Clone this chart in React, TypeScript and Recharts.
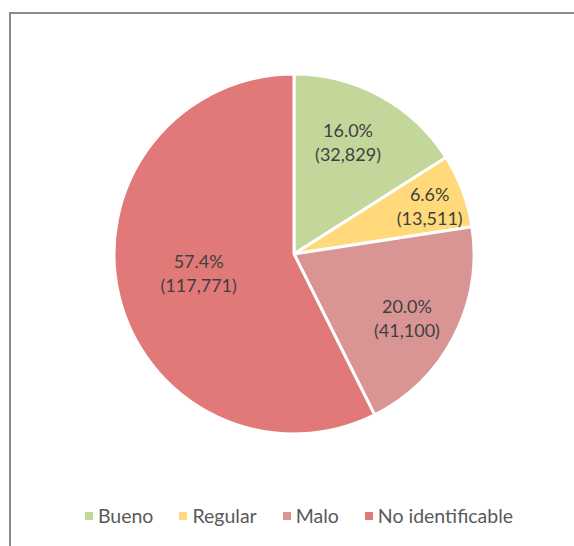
import React from "react";
import { PieChart, Pie, Cell, Legend } from "recharts";

const categories = ["Bueno", "Regular", "Malo", "No identificable"];
const counts = [32829, 13511, 41100, 117771];
const colors = ["#c4d79b", "#ffd97a", "#d99594", "#e27979"];

// label placement tweaks per slice: [radius fraction, angle shift in degrees]
const labelPlacement: [number, number][] = [
	[0.69, 3],
	[0.8, -1],
	[0.72, -2],
	[0.54, -2],
];

const data = categories.map((name, i) => ({ name, value: counts[i] }));

const RADIAN = Math.PI / 180;
const FONT = "Lato, 'Liberation Sans', sans-serif";

function renderLabel(props: any) {
	const { cx, cy, midAngle, outerRadius, percent, value, index } = props;
	const [f, shift] = labelPlacement[index];
	const a = (midAngle + shift) * RADIAN;
	const r = outerRadius * f;
	const x = cx + r * Math.cos(a);
	const y = cy - r * Math.sin(a);
	return (
		<text
			x={x}
			y={y}
			textAnchor="middle"
			fill="#404040"
			fontSize={18}
			fontFamily={FONT}
		>
			<tspan x={x} dy={-5}>
				{(percent * 100).toFixed(1)}%
			</tspan>
			<tspan x={x} dy={24}>
				({value.toLocaleString("en-US")})
			</tspan>
		</text>
	);
}

function renderLegend() {
	return (
		<div
			style={{
				display: "flex",
				justifyContent: "center",
				paddingLeft: 24,
				fontFamily: FONT,
				fontSize: 19.5,
				color: "#595959",
			}}
		>
			{categories.map((name, i) => (
				<div
					key={name}
					style={{ display: "flex", alignItems: "center", margin: "0 13px" }}
				>
					<span
						style={{
							width: 8,
							height: 8,
							background: colors[i],
							marginRight: 5,
							display: "inline-block",
						}}
					/>
					<span>{name}</span>
				</div>
			))}
		</div>
	);
}

export default function App() {
	return (
		<div
			style={{
				position: "fixed",
				left: 0,
				top: 0,
				width: 574,
				height: 546,
				overflow: "hidden",
				background: "#fff",
			}}
		>
			<div
				style={{
					position: "absolute",
					left: 9,
					top: 12,
					width: 700,
					height: 700,
					borderLeft: "2px solid #8a8a8a",
					borderTop: "2px solid #8a8a8a",
				}}
			/>
			<div style={{ position: "absolute", left: 0, top: 0 }}>
				<PieChart
					width={574}
					height={546}
					margin={{ top: 0, right: 0, bottom: 0, left: 0 }}
				>
					<Pie
						data={data}
						dataKey="value"
						nameKey="name"
						cx={294}
						cy={254}
						outerRadius={180}
						startAngle={90}
						endAngle={-270}
						stroke="#ffffff"
						strokeWidth={3}
						label={renderLabel}
						labelLine={false}
						isAnimationActive={false}
					>
						{data.map((entry, idx) => (
							<Cell key={`cell-${idx}`} fill={colors[idx]} />
						))}
					</Pie>
					<Legend
						content={renderLegend}
						verticalAlign="bottom"
						wrapperStyle={{ top: 504, left: 0, width: 574, bottom: "auto" }}
					/>
				</PieChart>
			</div>
		</div>
	);
}
